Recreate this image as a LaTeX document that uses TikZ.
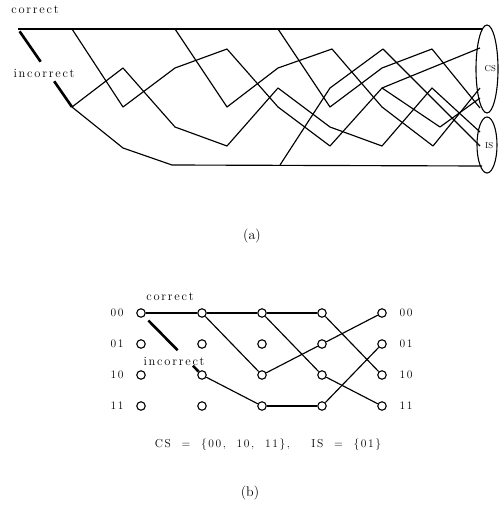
\documentclass[tikz,border=0pt]{standalone}
\usepackage{fontspec}
\newfontfamily\spfont[LetterSpace=14]{Latin Modern Roman}
\usetikzlibrary{shapes.geometric,calc}
\begin{document}
\begin{tikzpicture}[x=1pt,y=-1pt,
  ln/.style={line width=1.15pt, line join=round},
  thk/.style={line width=2.6pt, line cap=butt},
  st/.style={circle, draw, line width=1.1pt, minimum size=8.5pt, inner sep=0pt, fill=white},
  small/.style={font=\spfont\fontsize{12.5}{13}\selectfont, inner sep=0pt},
  tiny/.style={font=\fontsize{8.5}{9}\selectfont, inner sep=0pt},
  lbl/.style={font=\spfont\fontsize{11.5}{12}\selectfont, inner sep=0pt},
  captxt/.style={font=\fontsize{14}{15}\selectfont, inner sep=0pt}]
\useasboundingbox (0,0) rectangle (500,519);
% ---------- (a) ----------
\coordinate (r) at (18,29);
\coordinate (a1) at (72,29); \coordinate (a3) at (175,29); \coordinate (a5) at (278,29); \coordinate (aE) at (482,29);
\coordinate (i1) at (72,107);
\coordinate (b3) at (172,165); \coordinate (b5) at (280,165); \coordinate (bE) at (482,166);
\coordinate (p1a) at (123,107); \coordinate (p1b) at (175,68); \coordinate (p1c) at (227,49);
\coordinate (p1d) at (278,107); \coordinate (p1e) at (330,146); \coordinate (p1f) at (382,88);
\coordinate (p1g) at (440,127); \coordinate (p1E) at (480,98);
\coordinate (p6E) at (480,48);
\coordinate (p2a) at (123,68); \coordinate (p2b) at (175,127); \coordinate (p2c) at (227,146);
\coordinate (p2d) at (278,88); \coordinate (p2e) at (330,127); \coordinate (p2f) at (382,146);
\coordinate (p2g) at (432,88); \coordinate (p2E) at (480,132);
\coordinate (p3a) at (123,148);
\coordinate (p4a) at (227,107); \coordinate (p4b) at (278,68); \coordinate (p4c) at (332,49);
\coordinate (p4d) at (382,107); \coordinate (p4e) at (433,146); \coordinate (p4E) at (480,88);
\coordinate (p5a) at (330,107); \coordinate (p5b) at (382,68); \coordinate (p5c) at (432,49); \coordinate (p5E) at (480,108);
\coordinate (q1) at (330,88); \coordinate (q2) at (383,49); \coordinate (qE) at (480,146);

\draw[line width=2.2pt] (r) -- (a1);
\draw[ln] (a1) -- (aE);
\draw[thk] ($(r)!0.03!(i1)$) -- ($(r)!0.42!(i1)$);
\draw[thk] ($(r)!0.67!(i1)$) -- (i1);
\draw[ln] (a1) -- (p1a) -- (p1b) -- (p1c) -- (p1d) -- (p1e) -- (p1f) -- (p1g) -- (p1E);
\draw[ln] (p1f) -- (p6E);
\draw[ln] (i1) -- (p2a) -- (p2b) -- (p2c) -- (p2d) -- (p2e) -- (p2f) -- (p2g) -- (p2E);
\draw[ln] (i1) -- (p3a) -- (b3) -- (bE);
\draw[ln] (a3) -- (p4a) -- (p4b) -- (p4c) -- (p4d) -- (p4e) -- (p4E);
\draw[ln] (a5) -- (p5a) -- (p5b) -- (p5c) -- (p5E);
\draw[ln] (b5) -- (q1) -- (q2) -- (qE);
\node[ellipse, draw, line width=1.1pt, minimum width=22pt, minimum height=88pt, inner sep=0pt] (cs) at (487,69) {};
\node[ellipse, draw, line width=1.1pt, minimum width=20pt, minimum height=56pt, inner sep=0pt] (is) at (487,145) {};
\node[tiny, anchor=west] (cst) at (484.5,69) {CS};
\node[tiny, anchor=west] (ist) at (485,146) {IS};
\node[small] (corA) at (35,10) {correct};
\node[small] (incA) at (44,73) {incorrect};
\node[captxt] (capa) at (252,236) {(a)};
% ---------- (b) ----------
\foreach \c/\x in {0/141,1/202,2/262,3/322,4/382}{
  \foreach \r/\y in {0/313,1/344,2/375,3/406}{
    \node[st] (n\c\r) at (\x,\y) {};
  }
}
\foreach \r/\y/\t in {0/313/00,1/344/01,2/375/10,3/406/11}{
  \node[lbl] (l\r) at (117,\y) {\t};
  \node[lbl] (rr\r) at (406,\y) {\t};
}
\draw[line width=1.6pt] (n00) -- (n10);
\draw[thk] ($(n00.center)!0.12!(n12.center)$) -- ($(n00.center)!0.6!(n12.center)$);
\draw[thk] ($(n00.center)!0.85!(n12.center)$) -- (n12);
\draw[ln] (n10) -- (n20);
\draw[ln] (n10) -- (n22);
\draw[ln] (n12) -- (n23);
\draw[ln] (n20) -- (n30);
\draw[ln] (n20) -- (n32);
\draw[ln] (n22) -- (n31);
\draw[ln] (n23) -- (n33);
\draw[ln] (n30) -- (n42);
\draw[ln] (n31) -- (n40);
\draw[ln] (n32) -- (n43);
\draw[ln] (n33) -- (n41);
\node[small] (corB) at (170,297) {correct};
\node[small] (incB) at (174,361) {incorrect};
\node[lbl] (sets) at (268,445) {CS \ = \ \{00, \ 10, \ 11\}, \ \ \ IS \ = \ \{01\}};
\node[captxt] (capb) at (250,493) {(b)};
\end{tikzpicture}
\end{document}
